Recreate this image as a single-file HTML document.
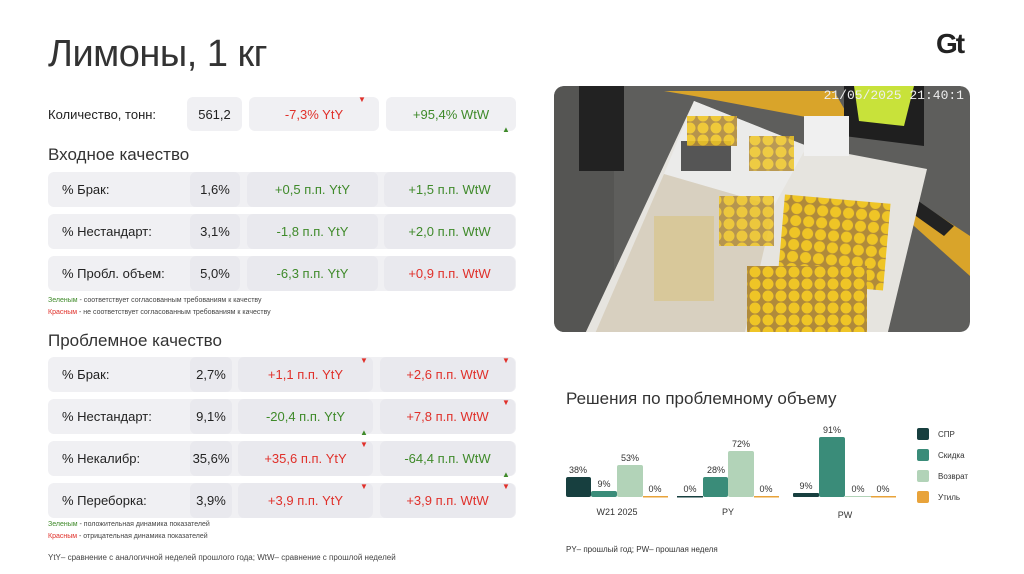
<!DOCTYPE html>
<html><head><meta charset="utf-8"><style>
*{margin:0;padding:0;box-sizing:border-box}
body{width:1024px;height:574px;background:#fff;font-family:"Liberation Sans","DejaVu Sans",sans-serif;position:relative;overflow:hidden;color:#222}
.a{position:absolute}
.b{position:absolute;background:#f0f0f3;border-radius:6px}
.t{position:absolute;font-size:13px;line-height:14px;white-space:nowrap}
.c{text-align:center}
.g{color:#3f8a2a}.r{color:#e0302a}
.tri{position:absolute;font-size:8px;line-height:8px}
.h{position:absolute;font-size:17px;color:#333;font-weight:300}
.s{position:absolute;font-size:7px;color:#444;white-space:nowrap}
.lab{position:absolute;font-size:9px;color:#333;width:40px;text-align:center;margin-left:-20px}
</style></head><body>
<div class="a" style="left:48px;top:33px;font-size:38px;color:#333;font-weight:300;letter-spacing:-0.5px">Лимоны, 1 кг</div>
<div class="a" style="left:936px;top:28px;font-size:28px;font-weight:bold;color:#222;letter-spacing:-2px">Gt</div>

<div class="t" style="left:48px;top:108px">Количество, тонн:</div>
<div class="b" style="left:187px;top:97px;width:55px;height:34px"></div>
<div class="t c" style="left:187px;top:108px;width:55px">561,2</div>
<div class="b" style="left:249px;top:97px;width:130px;height:34px"></div>
<div class="t c r" style="left:249px;top:108px;width:130px">-7,3% YtY</div>
<div class="b" style="left:386px;top:97px;width:130px;height:34px"></div>
<div class="t c g" style="left:386px;top:108px;width:130px">+95,4% WtW</div>
<div class="tri r" style="left:358px;top:96px">▼</div>
<div class="tri g" style="left:502px;top:126px">▲</div>

<div class="h" style="left:48px;top:145px">Входное качество</div>
<!-- inbound rows -->
<div class="b" style="left:48px;top:172px;width:468px;height:35px"></div>
<div class="b" style="left:48px;top:214px;width:468px;height:35px"></div>
<div class="b" style="left:48px;top:256px;width:468px;height:35px"></div>
<div class="b" style="left:190px;top:172px;width:50px;height:35px;background:#e9e9ee"></div>
<div class="b" style="left:190px;top:214px;width:50px;height:35px;background:#e9e9ee"></div>
<div class="b" style="left:190px;top:256px;width:50px;height:35px;background:#e9e9ee"></div>
<div class="b" style="left:247px;top:172px;width:131px;height:35px;background:#e9e9ee"></div>
<div class="b" style="left:247px;top:214px;width:131px;height:35px;background:#e9e9ee"></div>
<div class="b" style="left:247px;top:256px;width:131px;height:35px;background:#e9e9ee"></div>
<div class="b" style="left:384px;top:172px;width:131px;height:35px;background:#e9e9ee"></div>
<div class="b" style="left:384px;top:214px;width:131px;height:35px;background:#e9e9ee"></div>
<div class="b" style="left:384px;top:256px;width:131px;height:35px;background:#e9e9ee"></div>
<div class="t" style="left:62px;top:183px">% Брак:</div>
<div class="t" style="left:62px;top:225px">% Нестандарт:</div>
<div class="t" style="left:62px;top:267px">% Пробл. объем:</div>
<div class="t c" style="left:190px;top:183px;width:50px">1,6%</div>
<div class="t c" style="left:190px;top:225px;width:50px">3,1%</div>
<div class="t c" style="left:190px;top:267px;width:50px">5,0%</div>
<div class="t c g" style="left:247px;top:183px;width:131px">+0,5 п.п. YtY</div>
<div class="t c g" style="left:247px;top:225px;width:131px">-1,8 п.п. YtY</div>
<div class="t c g" style="left:247px;top:267px;width:131px">-6,3 п.п. YtY</div>
<div class="t c g" style="left:384px;top:183px;width:131px">+1,5 п.п. WtW</div>
<div class="t c g" style="left:384px;top:225px;width:131px">+2,0 п.п. WtW</div>
<div class="t c r" style="left:384px;top:267px;width:131px">+0,9 п.п. WtW</div>
<div class="s" style="left:48px;top:297px"><span class="g">Зеленым</span> - соответствует согласованным требованиям к качеству</div>
<div class="s" style="left:48px;top:309px"><span class="r">Красным</span> - не соответствует согласованным требованиям к качеству</div>

<div class="h" style="left:48px;top:331px">Проблемное качество</div>
<div class="b" style="left:48px;top:357px;width:468px;height:35px"></div>
<div class="b" style="left:48px;top:399px;width:468px;height:35px"></div>
<div class="b" style="left:48px;top:441px;width:468px;height:35px"></div>
<div class="b" style="left:48px;top:483px;width:468px;height:35px"></div>
<div class="b" style="left:190px;top:357px;width:42px;height:35px;background:#e9e9ee"></div>
<div class="b" style="left:190px;top:399px;width:42px;height:35px;background:#e9e9ee"></div>
<div class="b" style="left:190px;top:441px;width:42px;height:35px;background:#e9e9ee"></div>
<div class="b" style="left:190px;top:483px;width:42px;height:35px;background:#e9e9ee"></div>
<div class="b" style="left:238px;top:357px;width:135px;height:35px;background:#e9e9ee"></div>
<div class="b" style="left:238px;top:399px;width:135px;height:35px;background:#e9e9ee"></div>
<div class="b" style="left:238px;top:441px;width:135px;height:35px;background:#e9e9ee"></div>
<div class="b" style="left:238px;top:483px;width:135px;height:35px;background:#e9e9ee"></div>
<div class="b" style="left:380px;top:357px;width:135px;height:35px;background:#e9e9ee"></div>
<div class="b" style="left:380px;top:399px;width:135px;height:35px;background:#e9e9ee"></div>
<div class="b" style="left:380px;top:441px;width:135px;height:35px;background:#e9e9ee"></div>
<div class="b" style="left:380px;top:483px;width:135px;height:35px;background:#e9e9ee"></div>
<div class="t" style="left:62px;top:368px">% Брак:</div>
<div class="t" style="left:62px;top:410px">% Нестандарт:</div>
<div class="t" style="left:62px;top:452px">% Некалибр:</div>
<div class="t" style="left:62px;top:494px">% Переборка:</div>
<div class="t c" style="left:188px;top:368px;width:46px">2,7%</div>
<div class="t c" style="left:188px;top:410px;width:46px">9,1%</div>
<div class="t c" style="left:188px;top:452px;width:46px">35,6%</div>
<div class="t c" style="left:188px;top:494px;width:46px">3,9%</div>
<div class="t c r" style="left:238px;top:368px;width:135px">+1,1 п.п. YtY</div>
<div class="t c g" style="left:238px;top:410px;width:135px">-20,4 п.п. YtY</div>
<div class="t c r" style="left:238px;top:452px;width:135px">+35,6 п.п. YtY</div>
<div class="t c r" style="left:238px;top:494px;width:135px">+3,9 п.п. YtY</div>
<div class="t c r" style="left:380px;top:368px;width:135px">+2,6 п.п. WtW</div>
<div class="t c r" style="left:380px;top:410px;width:135px">+7,8 п.п. WtW</div>
<div class="t c g" style="left:380px;top:452px;width:135px">-64,4 п.п. WtW</div>
<div class="t c r" style="left:380px;top:494px;width:135px">+3,9 п.п. WtW</div>
<div class="tri r" style="left:360px;top:357px">▼</div>
<div class="tri r" style="left:502px;top:357px">▼</div>
<div class="tri r" style="left:502px;top:399px">▼</div>
<div class="tri g" style="left:360px;top:429px">▲</div>
<div class="tri r" style="left:360px;top:441px">▼</div>
<div class="tri g" style="left:502px;top:471px">▲</div>
<div class="tri r" style="left:360px;top:483px">▼</div>
<div class="tri r" style="left:502px;top:483px">▼</div>
<div class="s" style="left:48px;top:521px"><span class="g">Зеленым</span> - положительная динамика показателей</div>
<div class="s" style="left:48px;top:533px"><span class="r">Красным</span> - отрицательная динамика показателей</div>
<div class="s" style="left:48px;top:553px;font-size:8px">YtY– сравнение с аналогичной неделей прошлого года; WtW– сравнение с прошлой неделей</div>

<!-- photo -->
<svg class="a" style="left:554px;top:86px;border-radius:10px" width="416" height="246" viewBox="0 0 416 246">
<defs>
<pattern id="lm" width="13" height="12" patternUnits="userSpaceOnUse"><rect width="13" height="12" fill="#b08a3a"/><circle cx="6" cy="6" r="5.5" fill="#efc526"/></pattern>
<clipPath id="cp"><rect width="416" height="246" rx="10"/></clipPath>
</defs>
<g clip-path="url(#cp)">
<rect width="416" height="246" fill="#5e5e5c"/>
<rect x="0" y="0" width="60" height="246" fill="#555553"/>
<rect x="25" y="0" width="45" height="85" fill="#222"/>
<polygon points="110,5 280,5 300,40 140,10" fill="#d9a42a"/>
<polygon points="340,100 416,150 416,190 360,140" fill="#d9a42a"/>
<polygon points="350,105 400,140 390,150 345,118" fill="#222"/>
<polygon points="290,0 370,0 370,60 290,50" fill="#1f1f1f"/>
<polygon points="300,0 360,0 350,40 305,35" fill="#c8e23a"/>
<polygon points="140,15 253,60 373,83 333,250 30,250" fill="#e6e4df"/>
<polygon points="140,15 253,60 220,120 110,88" fill="#ebebea"/>
<polygon points="110,88 220,120 190,250 40,250" fill="#d8d0c0"/>
<rect x="127" y="55" width="50" height="30" fill="#555"/>
<rect x="227" y="113" width="106" height="87" fill="url(#lm)" transform="rotate(5 280 156)"/>
<rect x="193" y="180" width="120" height="70" fill="url(#lm)"/>
<rect x="133" y="30" width="50" height="30" fill="url(#lm)" opacity=".9"/>
<rect x="195" y="50" width="45" height="35" fill="url(#lm)" opacity=".85"/>
<rect x="165" y="110" width="55" height="50" fill="url(#lm)" opacity=".85"/>
<rect x="100" y="130" width="60" height="85" fill="#d8c58a" opacity=".7"/>
<rect x="250" y="30" width="45" height="40" fill="#f0f0f0"/>
<text x="410" y="13" font-size="13" fill="#eee" text-anchor="end" font-family="Liberation Mono,monospace">21/05/2025 21:40:1</text>
</g>
</svg>

<!-- chart -->
<div class="h" style="left:566px;top:389px">Решения по проблемному объему</div>
<svg class="a" style="left:0;top:0" width="1024" height="574">
<g>
<rect x="566" y="477" width="25" height="20" fill="#173f3f" rx="2"/>
<rect x="591" y="491" width="26" height="6" fill="#3a8c79" rx="2"/>
<rect x="617" y="465" width="26" height="32" fill="#b2d3b8" rx="2"/>
<rect x="643" y="496" width="25" height="1.5" fill="#e8a33a"/>
<rect x="677" y="496" width="26" height="1.5" fill="#173f3f"/>
<rect x="703" y="477" width="25" height="20" fill="#3a8c79" rx="2"/>
<rect x="728" y="451" width="26" height="46" fill="#b2d3b8" rx="2"/>
<rect x="754" y="496" width="25" height="1.5" fill="#e8a33a"/>
<rect x="793" y="493" width="26" height="4" fill="#173f3f" rx="1"/>
<rect x="819" y="437" width="26" height="60" fill="#3a8c79" rx="2"/>
<rect x="845" y="496" width="26" height="1" fill="#b2d3b8"/>
<rect x="871" y="496" width="25" height="1.5" fill="#e8a33a"/>
</g>
<rect x="917" y="428" width="12" height="12" rx="2" fill="#173f3f"/>
<rect x="917" y="449" width="12" height="12" rx="2" fill="#3a8c79"/>
<rect x="917" y="470" width="12" height="12" rx="2" fill="#b2d3b8"/>
<rect x="917" y="491" width="12" height="12" rx="2" fill="#e8a33a"/>
<g font-size="8" fill="#333" font-family="Liberation Sans,sans-serif">
<text x="938" y="437">СПР</text><text x="938" y="458">Скидка</text><text x="938" y="479">Возврат</text><text x="938" y="500">Утиль</text>
</g>
<g font-size="9" fill="#333" font-family="Liberation Sans,sans-serif" text-anchor="middle">
<text x="578" y="473">38%</text><text x="604" y="487">9%</text><text x="630" y="461">53%</text><text x="655" y="492">0%</text>
<text x="690" y="492">0%</text><text x="716" y="473">28%</text><text x="741" y="447">72%</text><text x="766" y="492">0%</text>
<text x="806" y="489">9%</text><text x="832" y="433">91%</text><text x="858" y="492">0%</text><text x="883" y="492">0%</text>
<text x="617" y="515">W21 2025</text><text x="728" y="515">PY</text><text x="845" y="518">PW</text>
</g>
<text x="566" y="552" font-size="8" fill="#333" font-family="Liberation Sans,sans-serif">PY– прошлый год;  PW– прошлая неделя</text>
</svg>
</body></html>
